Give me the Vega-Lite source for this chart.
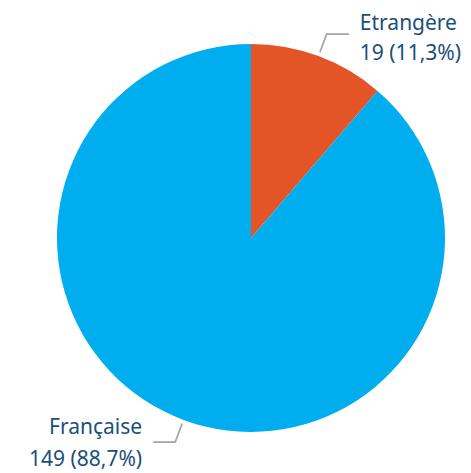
{
  "$schema": "https://vega.github.io/schema/vega-lite/v6.json",
  "width": 471,
  "height": 473,
  "autosize": {"type": "fit", "contains": "padding"},
  "padding": {"left": 31, "right": 0, "top": 3, "bottom": 0},
  "background": "white",
  "config": {"view": {"stroke": null}},
  "data": {"values": [
    {"nat": "Etrangère", "count": 19},
    {"nat": "Française", "count": 149}
  ]},
  "transform": [
    {"joinaggregate": [{"op": "sum", "field": "count", "as": "total"}]},
    {"window": [{"op": "sum", "field": "count", "as": "cum"}], "sort": [{"field": "nat"}], "frame": [null, 0]},
    {"calculate": "datum.cum - datum.count / 2", "as": "mid"},
    {"calculate": "datum.mid - 0.11", "as": "a0"},
    {"calculate": "datum.mid + 0.11", "as": "a1"},
    {"calculate": "datum.count + ' (' + replace(format(datum.count / datum.total * 100, '.1f'), '.', ',') + '%)'", "as": "label2"}
  ],
  "layer": [
    {
      "mark": {"type": "arc", "radius": 194},
      "encoding": {
        "theta": {"field": "count", "type": "quantitative", "stack": true},
        "order": {"field": "nat", "sort": "ascending"},
        "color": {"field": "nat", "type": "nominal", "legend": null,
          "scale": {"domain": ["Etrangère", "Française"], "range": ["#E35427", "#00AEEF"]}}
      }
    },
    {
      "mark": {"type": "arc", "color": "#A6A6A6"},
      "encoding": {
        "theta": {"field": "a0", "type": "quantitative", "stack": null},
        "theta2": {"field": "a1"},
        "radius": {"value": 198},
        "radius2": {"value": 218}
      }
    },
    {
      "transform": [{"filter": "datum.nat === 'Etrangère'"}],
      "layer": [
        {
          "mark": {"type": "text", "text": "—", "align": "left", "baseline": "middle", "font": "Noto Sans", "fontSize": 24, "color": "#A6A6A6", "dx": -1, "dy": -1},
          "encoding": {"theta": {"field": "mid", "type": "quantitative", "stack": null}, "radius": {"value": 218}}
        },
        {
          "mark": {"type": "text", "align": "left", "baseline": "alphabetic", "font": "Noto Sans", "fontSize": 21, "color": "#1B4F7A", "dx": 33, "dy": -4},
          "encoding": {"theta": {"field": "mid", "type": "quantitative", "stack": null}, "radius": {"value": 218}, "text": {"field": "nat"}}
        },
        {
          "mark": {"type": "text", "align": "left", "baseline": "alphabetic", "font": "Noto Sans", "fontSize": 21, "color": "#1B4F7A", "dx": 33, "dy": 26},
          "encoding": {"theta": {"field": "mid", "type": "quantitative", "stack": null}, "radius": {"value": 218}, "text": {"field": "label2"}}
        }
      ]
    },
    {
      "transform": [{"filter": "datum.nat === 'Française'"}],
      "layer": [
        {
          "mark": {"type": "text", "text": "—", "align": "right", "baseline": "middle", "font": "Noto Sans", "fontSize": 24, "color": "#A6A6A6", "dx": 1, "dy": -1},
          "encoding": {"theta": {"field": "mid", "type": "quantitative", "stack": null}, "radius": {"value": 218}}
        },
        {
          "mark": {"type": "text", "align": "right", "baseline": "alphabetic", "font": "Noto Sans", "fontSize": 21, "color": "#1B4F7A", "dx": -33, "dy": -8},
          "encoding": {"theta": {"field": "mid", "type": "quantitative", "stack": null}, "radius": {"value": 218}, "text": {"field": "nat"}}
        },
        {
          "mark": {"type": "text", "align": "right", "baseline": "alphabetic", "font": "Noto Sans", "fontSize": 21, "color": "#1B4F7A", "dx": -33, "dy": 24},
          "encoding": {"theta": {"field": "mid", "type": "quantitative", "stack": null}, "radius": {"value": 218}, "text": {"field": "label2"}}
        }
      ]
    }
  ]
}
